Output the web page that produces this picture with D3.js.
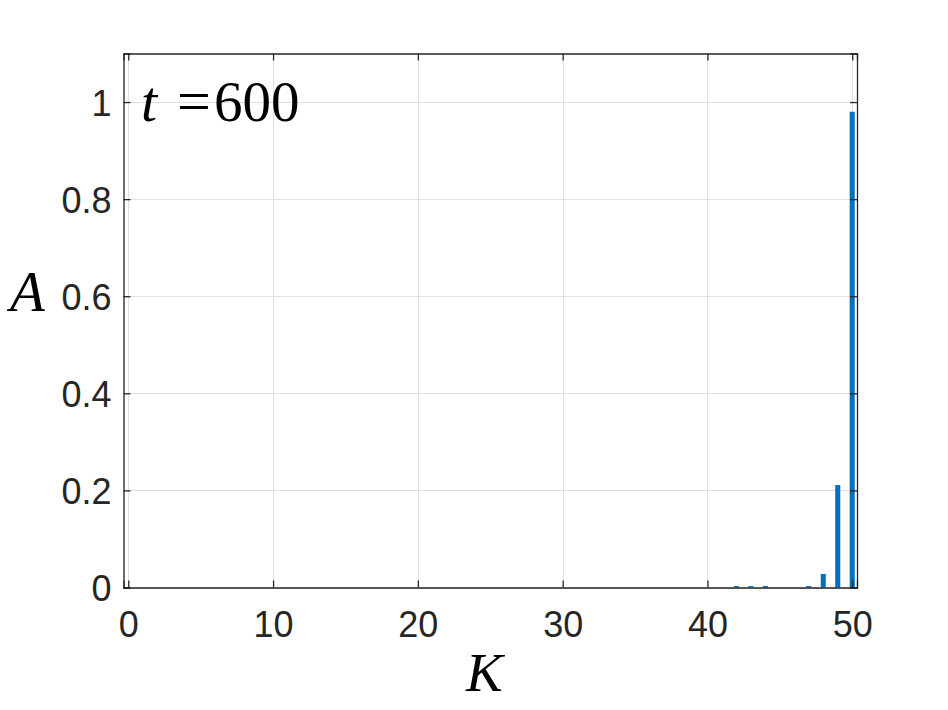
<!DOCTYPE html>
<html>
<head>
<meta charset="utf-8">
<script src="https://cdn.jsdelivr.net/npm/d3@7"></script>
<style>
  html, body { margin: 0; padding: 0; background: #fff; }
  svg { display: block; }
</style>
</head>
<body>
<svg id="chart" width="948" height="710"></svg>
<script>
// ---- data ----
const kValues = d3.range(0, 51);
const aValues = [
  0,0,0,0,0,0,0,0,0,0,
  0,0,0,0,0,0,0,0,0,0,
  0,0,0,0,0,0,0,0,0,0,
  0,0,0,0,0,0,0,0,0,0,
  0,0,0.003,0.003,0.003,0,0,0.003,0.028,0.211,
  0.98
];
const xTicks = [0, 10, 20, 30, 40, 50];
const yTicks = [0, 0.2, 0.4, 0.6, 0.8, 1];
const yTickLabels = ["0", "0.2", "0.4", "0.6", "0.8", "1"];
const annotationVar = "t";
const annotationValue = "600";

// ---- layout ----
const L = 123.5, R = 857, T = 53.5, B = 587.5;
const svg = d3.select("#chart");
const x = d3.scaleLinear().domain([-0.33, 50.33]).range([L, R]);
const y = d3.scaleLinear().domain([0, 1.1]).range([B, T]);
const axisColor = "#262626";
const sans = "'Liberation Sans', Arial, Helvetica, sans-serif";
const serif = "'Liberation Serif', 'Times New Roman', serif";

// grid
const grid = svg.append("g").attr("stroke", "#dfdfdf").attr("stroke-width", 1);
xTicks.forEach(t => grid.append("line")
  .attr("x1", Math.round(x(t)) + 0.5).attr("x2", Math.round(x(t)) + 0.5)
  .attr("y1", T).attr("y2", B));
yTicks.forEach(t => grid.append("line")
  .attr("x1", L).attr("x2", R)
  .attr("y1", Math.round(y(t)) + 0.5).attr("y2", Math.round(y(t)) + 0.5));

// bars
const barW = x(0.35) - x(0);
svg.append("g").selectAll("rect")
  .data(kValues.map((k, i) => ({k, a: aValues[i]})).filter(d => d.a > 0))
  .join("rect")
  .attr("x", d => x(d.k) - barW / 2)
  .attr("width", barW)
  .attr("y", d => y(d.a))
  .attr("height", d => y(0) - y(d.a))
  .attr("fill", "#0072BD");

// axes (MATLAB-style box with inward ticks)
const xAxisB = d3.axisBottom(x).tickValues(xTicks).tickSize(-7).tickFormat(d3.format("d"));
const gxB = svg.append("g").attr("transform", `translate(0,${B})`).call(xAxisB);
const xAxisT = d3.axisTop(x).tickValues(xTicks).tickSize(-7).tickFormat("");
const gxT = svg.append("g").attr("transform", `translate(0,${T})`).call(xAxisT);
const yAxisL = d3.axisLeft(y).tickValues(yTicks).tickSize(-7).tickFormat((d, i) => yTickLabels[i]);
const gyL = svg.append("g").attr("transform", `translate(${L},0)`).call(yAxisL);
const yAxisR = d3.axisRight(y).tickValues(yTicks).tickSize(-7).tickFormat("");
const gyR = svg.append("g").attr("transform", `translate(${R},0)`).call(yAxisR);

[gxB, gxT, gyL, gyR].forEach(g => {
  g.select(".domain").attr("stroke", axisColor).attr("stroke-width", 1.3);
  g.selectAll(".tick line").attr("stroke", axisColor).attr("stroke-width", 1.3);
  g.selectAll(".tick text").attr("fill", axisColor)
    .style("font-family", sans).style("font-size", "36px");
});
gxB.selectAll(".tick text").attr("dy", null).attr("y", 49);
gyL.selectAll(".tick text").attr("x", -12).attr("dy", "0.36em");

// labels
svg.append("text")
  .attr("x", 466).attr("y", 691)
  .style("font-family", serif).style("font-style", "italic").style("font-size", "55px")
  .attr("fill", "#000").text("K");
svg.append("text")
  .attr("x", 10).attr("y", 311)
  .style("font-family", serif).style("font-style", "italic").style("font-size", "57px")
  .attr("fill", "#000").text("A");

const ann = svg.append("text").attr("y", 121)
  .style("font-family", serif).attr("fill", "#000");
ann.append("tspan").attr("x", 141).style("font-style", "italic").style("font-size", "58px").text(annotationVar);
ann.append("tspan").attr("x", 177).style("font-size", "60px").text("=");
ann.append("tspan").attr("x", 214).style("font-size", "57px").text(annotationValue);
</script>
</body>
</html>
